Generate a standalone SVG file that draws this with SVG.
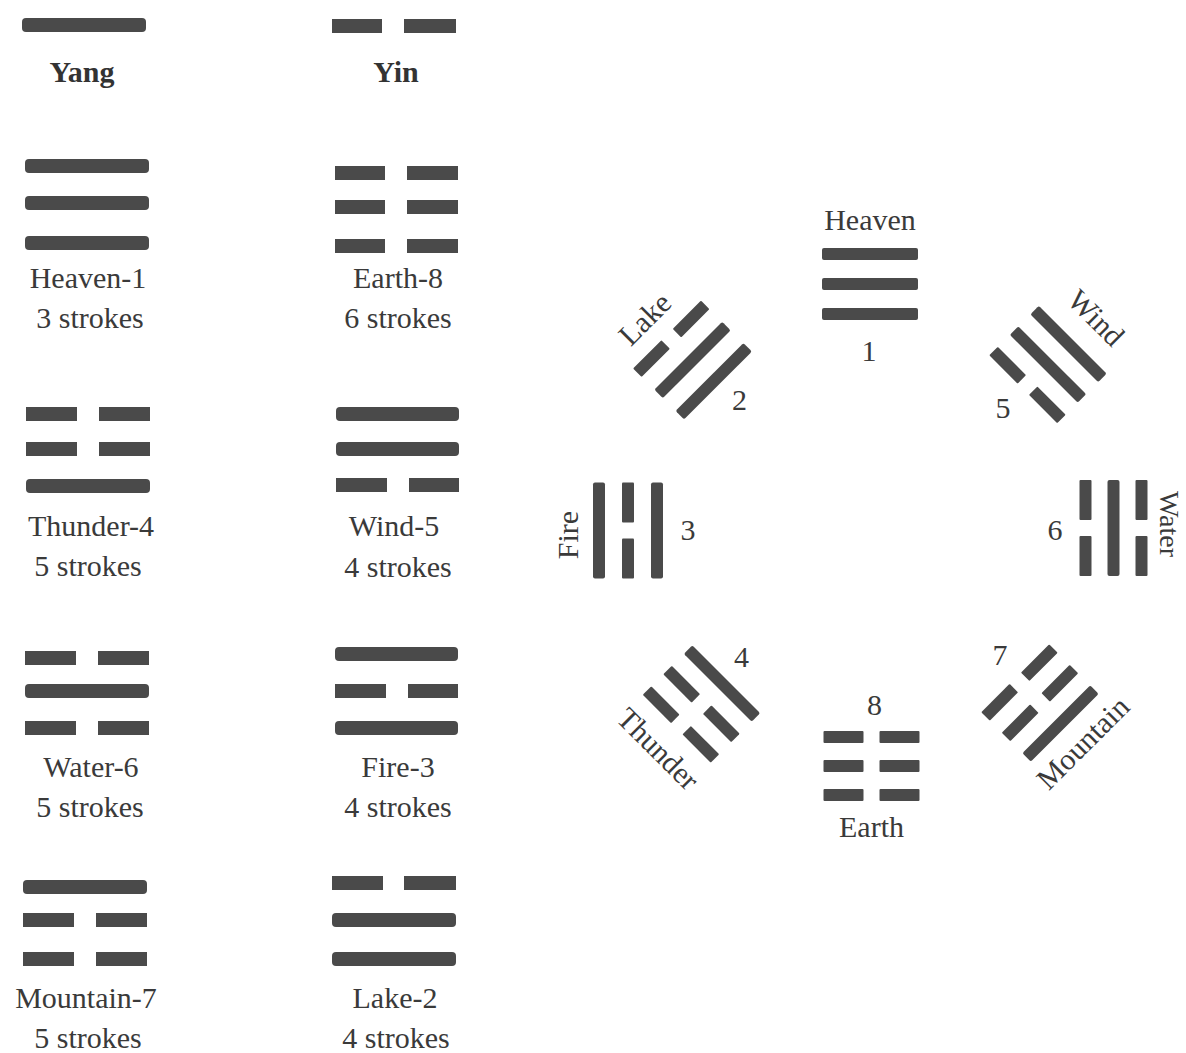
<svg xmlns="http://www.w3.org/2000/svg" xmlns:xlink="http://www.w3.org/1999/xlink" width="1186" height="1053" viewBox="0 0 1186 1053">
<style>
  .bar { fill: #4a4a4a; }
  .lbl { font-family: "Liberation Serif", "Times New Roman", serif; font-size: 30px; fill: #3a3a3a; text-anchor: middle; }
  .bold { font-weight: bold; fill: #333; }
</style>
<defs>
  <rect id="yangO" class="bar" x="-48" y="-6" width="96" height="12" rx="2"/>
  <g id="yinO"><rect class="bar" x="-48" y="-6" width="40" height="12" rx="1"/><rect class="bar" x="8" y="-6" width="40" height="12" rx="1"/></g>
</defs>
<rect width="1186" height="1053" fill="#ffffff"/>

<!-- Left columns -->
<g id="yang">
  <rect class="bar" x="22" y="18" width="124" height="14" rx="4"/>
  <text class="lbl bold" x="82" y="82">Yang</text>
</g>
<g id="yin">
  <rect class="bar" x="332" y="19" width="50" height="14"/>
  <rect class="bar" x="404" y="19" width="52" height="14"/>
  <text class="lbl bold" x="396" y="82">Yin</text>
</g>

<g id="heaven-1">
  <rect class="bar" x="25" y="159" width="124" height="14" rx="4"/>
  <rect class="bar" x="25" y="196" width="124" height="14" rx="4"/>
  <rect class="bar" x="25" y="236" width="124" height="14" rx="4"/>
  <text class="lbl" x="88" y="288">Heaven-1</text>
  <text class="lbl" x="90" y="328">3 strokes</text>
</g>
<g id="earth-8">
  <rect class="bar" x="335" y="166" width="50" height="14"/><rect class="bar" x="407" y="166" width="51" height="14"/>
  <rect class="bar" x="335" y="200" width="50" height="14"/><rect class="bar" x="407" y="200" width="51" height="14"/>
  <rect class="bar" x="335" y="239" width="50" height="14"/><rect class="bar" x="407" y="239" width="51" height="14"/>
  <text class="lbl" x="398" y="288">Earth-8</text>
  <text class="lbl" x="398" y="328">6 strokes</text>
</g>

<g id="thunder-4">
  <rect class="bar" x="26" y="407" width="51" height="14"/><rect class="bar" x="99" y="407" width="51" height="14"/>
  <rect class="bar" x="26" y="442" width="51" height="14"/><rect class="bar" x="99" y="442" width="51" height="14"/>
  <rect class="bar" x="26" y="479" width="124" height="14" rx="4"/>
  <text class="lbl" x="91" y="536">Thunder-4</text>
  <text class="lbl" x="88" y="576">5 strokes</text>
</g>
<g id="wind-5">
  <rect class="bar" x="336" y="407" width="123" height="14" rx="4"/>
  <rect class="bar" x="336" y="442" width="123" height="14" rx="4"/>
  <rect class="bar" x="336" y="478" width="51" height="14"/><rect class="bar" x="409" y="478" width="50" height="14"/>
  <text class="lbl" x="394" y="536">Wind-5</text>
  <text class="lbl" x="398" y="577">4 strokes</text>
</g>

<g id="water-6">
  <rect class="bar" x="25" y="651" width="51" height="14"/><rect class="bar" x="98" y="651" width="51" height="14"/>
  <rect class="bar" x="25" y="684" width="124" height="14" rx="4"/>
  <rect class="bar" x="25" y="721" width="51" height="14"/><rect class="bar" x="98" y="721" width="51" height="14"/>
  <text class="lbl" x="91" y="777">Water-6</text>
  <text class="lbl" x="90" y="817">5 strokes</text>
</g>
<g id="fire-3">
  <rect class="bar" x="335" y="647" width="123" height="14" rx="4"/>
  <rect class="bar" x="335" y="684" width="51" height="14"/><rect class="bar" x="408" y="684" width="50" height="14"/>
  <rect class="bar" x="335" y="721" width="123" height="14" rx="4"/>
  <text class="lbl" x="398" y="777">Fire-3</text>
  <text class="lbl" x="398" y="817">4 strokes</text>
</g>

<g id="mountain-7">
  <rect class="bar" x="23" y="880" width="124" height="14" rx="4"/>
  <rect class="bar" x="23" y="913" width="51" height="14"/><rect class="bar" x="96" y="913" width="51" height="14"/>
  <rect class="bar" x="23" y="952" width="51" height="14"/><rect class="bar" x="96" y="952" width="51" height="14"/>
  <text class="lbl" x="86" y="1008">Mountain-7</text>
  <text class="lbl" x="88" y="1048">5 strokes</text>
</g>
<g id="lake-2">
  <rect class="bar" x="332" y="876" width="51" height="14"/><rect class="bar" x="404" y="876" width="52" height="14"/>
  <rect class="bar" x="332" y="913" width="124" height="14" rx="4"/>
  <rect class="bar" x="332" y="952" width="124" height="14" rx="4"/>
  <text class="lbl" x="395" y="1008">Lake-2</text>
  <text class="lbl" x="396" y="1048">4 strokes</text>
</g>

<!-- Octagon arrangement -->
<g id="oct-heaven">
  <g transform="translate(870,284)"><use xlink:href="#yangO" y="-30"/><use xlink:href="#yangO" y="0"/><use xlink:href="#yangO" y="30"/></g>
  <text class="lbl" x="870" y="230">Heaven</text>
  <text class="lbl" x="869" y="361">1</text>
</g>
<g id="oct-wind">
  <g transform="translate(1048,364.5) rotate(45)"><use xlink:href="#yangO" y="-29"/><use xlink:href="#yangO" y="0"/><use xlink:href="#yinO" y="29"/></g>
  <text class="lbl" transform="translate(1089,325) rotate(45)">Wind</text>
  <text class="lbl" x="1003" y="418">5</text>
</g>
<g id="oct-water">
  <g transform="translate(1113.5,528) rotate(90)"><use xlink:href="#yinO" y="-28"/><use xlink:href="#yangO" y="0"/><use xlink:href="#yinO" y="28"/></g>
  <text class="lbl" style="font-size:28px" transform="translate(1160,524) rotate(90)">Water</text>
  <text class="lbl" x="1055" y="540">6</text>
</g>
<g id="oct-mountain">
  <g transform="translate(1040,703) rotate(135)"><use xlink:href="#yangO" y="-29"/><use xlink:href="#yinO" y="0"/><use xlink:href="#yinO" y="29"/></g>
  <text class="lbl" transform="translate(1090,750) rotate(-45)">Mountain</text>
  <text class="lbl" x="1000" y="665">7</text>
</g>
<g id="oct-earth">
  <g transform="translate(871.5,766) rotate(180)"><use xlink:href="#yinO" y="-29"/><use xlink:href="#yinO" y="0"/><use xlink:href="#yinO" y="29"/></g>
  <text class="lbl" x="871.5" y="837">Earth</text>
  <text class="lbl" x="874.5" y="715">8</text>
</g>
<g id="oct-thunder">
  <g transform="translate(701.5,704) rotate(-135)"><use xlink:href="#yinO" y="-29"/><use xlink:href="#yinO" y="0"/><use xlink:href="#yangO" y="29"/></g>
  <text class="lbl" transform="translate(651,756) rotate(45)">Thunder</text>
  <text class="lbl" x="741.5" y="667">4</text>
</g>
<g id="oct-fire">
  <g transform="translate(628,530.5) rotate(-90)"><use xlink:href="#yangO" y="-29"/><use xlink:href="#yinO" y="0"/><use xlink:href="#yangO" y="29"/></g>
  <text class="lbl" transform="translate(578,535) rotate(-90)">Fire</text>
  <text class="lbl" x="688" y="540">3</text>
</g>
<g id="oct-lake">
  <g transform="translate(692.5,360) rotate(-45)"><use xlink:href="#yinO" y="-30"/><use xlink:href="#yangO" y="0"/><use xlink:href="#yangO" y="30"/></g>
  <text class="lbl" transform="translate(652,326) rotate(-45)">Lake</text>
  <text class="lbl" x="739.5" y="410">2</text>
</g>
</svg>
